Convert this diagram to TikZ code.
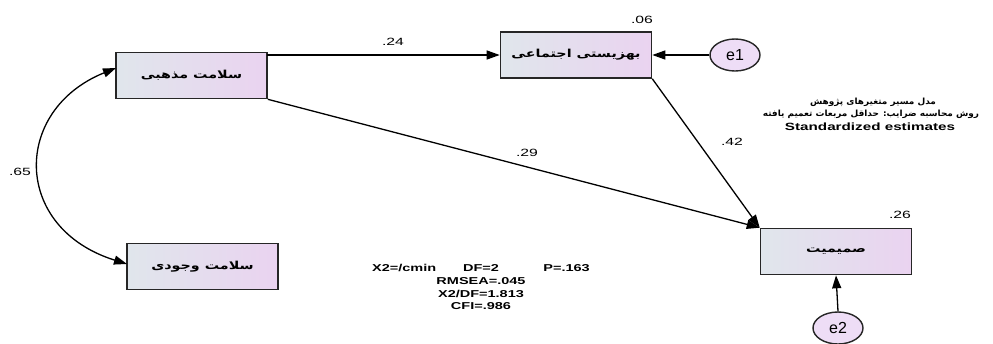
\documentclass[tikz,border=0pt]{standalone}
\usepackage{fontspec}
\setmainfont{Liberation Sans}
\newfontfamily\widefont[FakeStretch=1.45]{Liberation Sans}
\newfontfamily\coeffont[FakeStretch=1.5]{Liberation Sans}
\newfontfamily\arabicfont[Script=Arabic,FakeStretch=1.3]{DejaVu Sans}
\newfontfamily\arabicinfo[Script=Arabic,FakeStretch=1.05]{DejaVu Sans}
\TeXXeTstate=1
\usetikzlibrary{arrows.meta,shapes.geometric}
\definecolor{boxL}{HTML}{E0E6EC}
\definecolor{boxR}{HTML}{EAD3F0}
\definecolor{errfill}{HTML}{EEDDF6}
\tikzset{
  varbox/.style={draw=black!85, line width=1.6pt, minimum width=151pt, minimum height=46pt,
    left color=boxL, right color=boxR, inner sep=0pt,
    font=\arabicfont\bfseries\fontsize{11}{13}\selectfont},
  errnode/.style={draw=black!85, line width=1.4pt, ellipse, minimum width=50pt, minimum height=32pt,
    fill=errfill, inner sep=0pt, font=\fontsize{16}{18}\selectfont},
  arr/.style={line width=1.3pt, -{Triangle[length=13pt,width=9pt]}},
  coef/.style={font=\coeffont\fontsize{10.5}{13}\selectfont, inner sep=0pt},
  fit/.style={font=\widefont\bfseries\fontsize{10}{11}\selectfont, inner sep=0pt},
  infotext/.style={inner sep=0pt, font=\arabicinfo\bfseries\fontsize{8.5}{10}\selectfont},
}
\begin{document}
\begin{tikzpicture}[x=1pt,y=-1pt]
\useasboundingbox (0,0) rectangle (993,343);
\node[varbox] (b1) at (191.5,75.5) {\beginR سلامت مذهبی\endR};
\node[varbox] (b2) at (576,55) {\beginR بهزیستی اجتماعی\endR};
\node[varbox] (b3) at (836,251.5) {\beginR صمیمیت\endR};
\node[varbox] (b4) at (202.5,266.5) {\beginR سلامت وجودی\endR};
\node[errnode] (e1) at (735,55) {e1};
\node[errnode] (e2) at (838,328) {e2};

\coordinate (s1) at (267,55);
\coordinate (c1) at (116,68);
\coordinate (c4) at (127,264);
\draw[arr] (s1) -- (b2.west);
\draw[arr] (b1.south east) -- (b3.north west);
\draw[arr] (b2.south east) -- (b3.north west);
\draw[arr] (e1.west) -- (b2.east);
\draw[arr] (e2.north) -- (b3.south);
\draw[line width=1.3pt, {Triangle[length=13pt,width=9pt]}-{Triangle[length=13pt,width=9pt]}]
  (c1) .. controls (12,110) and (12,228) .. (c4);

\node[coef] (l06) at (642,20) {.06};
\node[coef] (l24) at (393,42) {.24};
\node[coef] (l42) at (732,142) {.42};
\node[coef] (l29) at (527,153) {.29};
\node[coef] (l26) at (900,215) {.26};
\node[coef] (l65) at (20,172) {.65};

\node[infotext] (i1) at (873,102) {\beginR مدل مسیر متغیرهای پژوهش\endR};
\node[infotext] (i2) at (871,114) {\beginR روش محاسبه ضرایب: حداقل مربعات تعمیم یافته\endR};
\node[inner sep=0pt, font=\widefont\bfseries\fontsize{10.5}{11}\selectfont] (i3) at (870,127) {Standardized estimates};

\node[fit, anchor=west] (f1) at (372,268) {X2=/cmin};
\node[fit] (f2) at (481,268) {DF=2};
\node[fit, anchor=east] (f3) at (590,268) {P=.163};
\node[fit] (f4) at (481,281) {RMSEA=.045};
\node[fit] (f5) at (481,293.5) {X2/DF=1.813};
\node[fit] (f6) at (481,306) {CFI=.986};
\end{tikzpicture}
\end{document}
